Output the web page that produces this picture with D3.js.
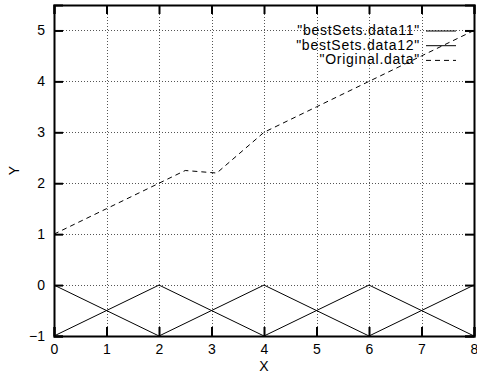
<!DOCTYPE html>
<html>
<head>
<meta charset="utf-8">
<script src="https://cdn.jsdelivr.net/npm/d3@7"></script>
<style>
  body { margin: 0; background: #fff; }
  svg { display: block; font-family: "Liberation Sans", Arial, sans-serif; }
</style>
</head>
<body>
<div id="chart"></div>
<script>
// data
const data11X = [0, 2, 4, 6, 8];
const data11Y = [0, -1, 0, -1, 0];
const data12X = [0, 2, 4, 6, 8];
const data12Y = [-1, 0, -1, 0, -1];
const origX = [0, 1, 2, 2.5, 3.1, 4, 5, 6, 7, 8];
const origY = [1, 1.5, 2, 2.25, 2.2, 3, 3.5, 4, 4.5, 5];
const xTicks = [0, 1, 2, 3, 4, 5, 6, 7, 8];
const yTicks = [-1, 0, 1, 2, 3, 4, 5];
const legendNames = ['"bestSets.data11"', '"bestSets.data12"', '"Original.data"'];
const legendDash = [null, null, '5,4'];

const W = 477, H = 374;
const margin = { left: 54, right: 3, top: 5, bottom: 38 };

const svg = d3.select('#chart').append('svg').attr('width', W).attr('height', H);

const x = d3.scaleLinear().domain([0, 8]).range([margin.left, W - margin.right]);
const y = d3.scaleLinear().domain([-1, 5.5]).range([H - margin.bottom, margin.top]);

// grid
const grid = svg.append('g').attr('stroke', '#555').attr('stroke-width', 1).attr('stroke-dasharray', '1,2');
grid.selectAll('.gx').data(xTicks.slice(1, -1)).enter().append('line')
  .attr('x1', d => Math.round(x(d)) + 0.5).attr('x2', d => Math.round(x(d)) + 0.5)
  .attr('y1', y(5.5)).attr('y2', y(-1));
grid.selectAll('.gy').data(yTicks.slice(1)).enter().append('line')
  .attr('y1', d => Math.round(y(d)) + 0.5).attr('y2', d => Math.round(y(d)) + 0.5)
  .attr('x1', x(0)).attr('x2', x(8));

// axes (gnuplot style, ticks inward, mirrored)
const tickLen = 9;
const axB = svg.append('g').attr('transform', `translate(0,${y(-1)})`)
  .call(d3.axisBottom(x).tickValues(xTicks).tickSize(-tickLen).tickPadding(8));
const axT = svg.append('g').attr('transform', `translate(0,${y(5.5)})`)
  .call(d3.axisTop(x).tickValues(xTicks).tickSize(-tickLen).tickFormat(''));
const axL = svg.append('g').attr('transform', `translate(${x(0)},0)`)
  .call(d3.axisLeft(y).tickValues(yTicks).tickSize(-tickLen).tickPadding(9).tickFormat(d3.format('d')));
const axR = svg.append('g').attr('transform', `translate(${x(8)},0)`)
  .call(d3.axisRight(y).tickValues(yTicks).tickSize(-tickLen).tickFormat(''));
[axB, axT, axL, axR].forEach(a => {
  a.selectAll('.domain').attr('stroke', '#000').attr('stroke-width', 2);
  a.selectAll('.tick line').attr('stroke', '#000').attr('stroke-width', 2);
  a.selectAll('text').attr('font-size', 14).attr('fill', '#000')
    .attr('font-family', '"Liberation Sans", Arial, sans-serif');
});

// series
const line = d3.line().x(d => x(d[0])).y(d => y(d[1]));
const series = [
  { pts: d3.zip(data11X, data11Y), dash: null },
  { pts: d3.zip(data12X, data12Y), dash: null },
  { pts: d3.zip(origX, origY), dash: '5,4' }
];
svg.selectAll('.series').data(series).enter().append('path')
  .attr('fill', 'none').attr('stroke', '#000').attr('stroke-width', 1)
  .attr('stroke-dasharray', d => d.dash)
  .attr('d', d => line(d.pts));

// legend
const leg = svg.append('g');
legendNames.forEach((name, i) => {
  const ly = 30 + i * 14.7;
  leg.append('text').attr('x', 420).attr('y', ly).attr('dy', '0.35em')
    .attr('text-anchor', 'end').attr('font-size', 14).attr('letter-spacing', 0.75).text(name);
  leg.append('line').attr('x1', 426).attr('x2', 456).attr('y1', ly + 1).attr('y2', ly + 1)
    .attr('stroke', '#000').attr('stroke-width', 1).attr('stroke-dasharray', legendDash[i]);
});

// axis labels
svg.append('text').attr('x', (x(0) + x(8)) / 2).attr('y', 371)
  .attr('text-anchor', 'middle').attr('font-size', 14).text('X');
svg.append('text').attr('transform', `translate(19,${y(2.25)}) rotate(-90)`)
  .attr('text-anchor', 'middle').attr('font-size', 14).text('Y');
</script>
</body>
</html>
